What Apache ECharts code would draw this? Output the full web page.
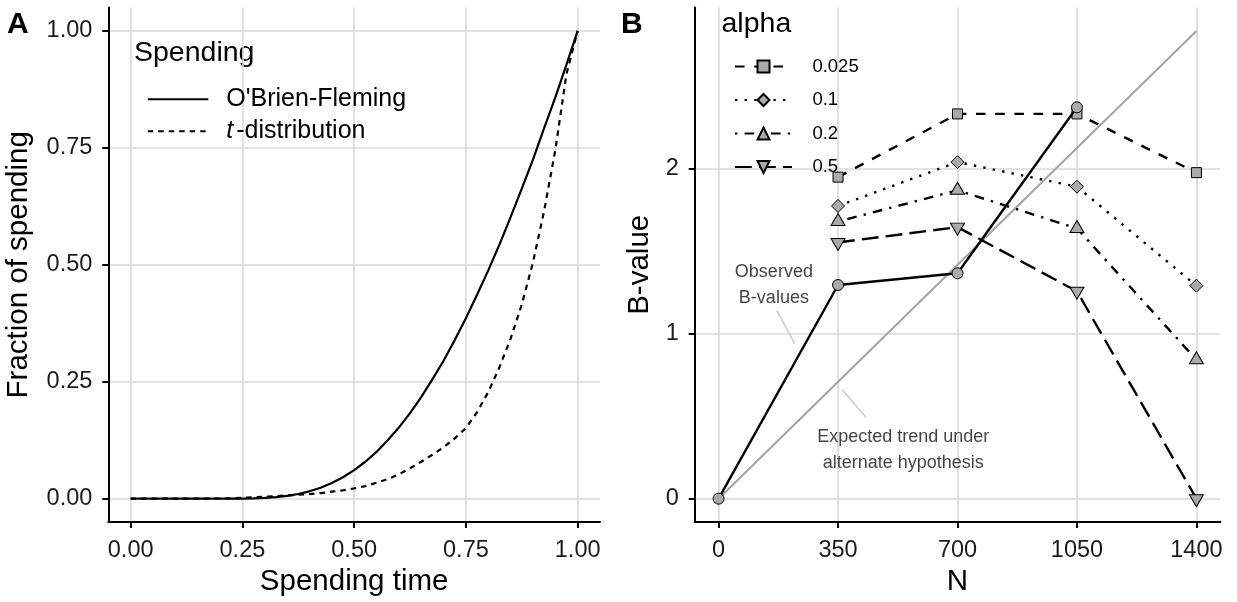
<!DOCTYPE html>
<html>
<head>
<meta charset="utf-8">
<script src="https://cdn.jsdelivr.net/npm/echarts@6/dist/echarts.min.js"></script>
<style>
html,body{margin:0;padding:0;background:#fff;}
#chart{width:1237px;height:602px;}
</style>
</head>
<body>
<div id="chart"></div>
<script>
// ---------- Panel A data ----------
const spendTime = [0,0.025,0.05,0.075,0.1,0.125,0.15,0.175,0.2,0.225,0.25,0.275,0.3,0.325,0.35,0.375,0.4,0.425,0.45,0.475,0.5,0.525,0.55,0.575,0.6,0.625,0.65,0.675,0.7,0.725,0.75,0.775,0.8,0.825,0.85,0.875,0.9,0.925,0.95,0.975,1];
const obfFraction = [0,0,0,0,0,0,0,0,0,0.0001,0.0003,0.0008,0.0017,0.0034,0.006,0.0101,0.0158,0.0234,0.0334,0.0458,0.061,0.079,0.1,0.125,0.152,0.183,0.217,0.255,0.295,0.339,0.386,0.436,0.488,0.543,0.602,0.663,0.725,0.792,0.858,0.928,1];
const tdistFraction = [0,0,0,0,0,0,0.0001,0.0003,0.0006,0.001,0.002,0.003,0.004,0.0055,0.007,0.0085,0.01,0.012,0.015,0.018,0.022,0.027,0.034,0.042,0.052,0.065,0.079,0.094,0.11,0.129,0.151,0.185,0.228,0.281,0.342,0.415,0.505,0.615,0.745,0.908,1];
const spendingNames = ["O'Brien-Fleming", "t-distribution"];
const ticksA = [0, 0.25, 0.5, 0.75, 1];

// ---------- Panel B data ----------
const nObserved = [0, 350, 700, 1050];
const bObserved = [0, 1.295, 1.366, 2.372];
const nAlpha = [350, 700, 1050, 1400];
const alphaNames = ['0.025', '0.1', '0.2', '0.5'];
const bAlpha025 = [1.949, 2.332, 2.332, 1.976];
const bAlpha01 = [1.774, 2.040, 1.891, 1.291];
const bAlpha02 = [1.680, 1.869, 1.638, 0.842];
const bAlpha05 = [1.553, 1.646, 1.257, 0];
const nExpected = [0, 1400];
const bExpected = [0, 2.835];
const ticksBx = [0, 350, 700, 1050, 1400];
const ticksBy = [0, 1, 2];
const noteObserved = 'Observed\nB-values';
const noteExpected = 'Expected trend under\nalternate hypothesis';

// annotation anchors (data coordinates)
const noteObservedAt = [162, 1.296];
const noteObservedSeg = [[171, 1.14], [223, 0.939]];
const noteExpectedAt = [541, 0.295];
const noteExpectedSeg = [[362, 0.661], [431.5, 0.494]];

const FONT = "'Liberation Sans', Arial, Helvetica, sans-serif";
const pair = (xs, ys) => xs.map((x, i) => [x, ys[i]]);

const chart = echarts.init(document.getElementById('chart'), null, {renderer: 'canvas'});

function axisCommon(ticks, fmt) {
  return {
    axisLine: {show: true, onZero: false, lineStyle: {color: '#000', width: 2}},
    axisTick: {show: true, length: 6, customValues: ticks, lineStyle: {color: '#000', width: 2}},
    axisLabel: {customValues: ticks, formatter: fmt, color: '#1a1a1a', fontSize: 23.5, fontFamily: FONT, margin: 16},
    splitLine: {show: true, lineStyle: {color: '#d9d9d9', width: 1.6}},
    minorTick: {show: false},
    nameTextStyle: {color: '#000', fontSize: 29.5, fontFamily: FONT},
    nameLocation: 'middle'
  };
}

const markerFill = '#aaaaaa';
const upTri = 'path://M7,0L14,12L0,12Z';
const downTri = 'path://M0,0L14,0L7,12Z';

function alphaSeries(name, data, symbol, size, dash, offset) {
  return {
    name: name, type: 'line', xAxisIndex: 1, yAxisIndex: 1,
    data: pair(nAlpha, data),
    symbol: symbol, symbolSize: size, symbolOffset: offset || [0, 0], showSymbol: true,
    lineStyle: {color: '#000', width: 2.4, type: dash},
    itemStyle: {color: markerFill, borderColor: '#000', borderWidth: 1},
    emphasis: {disabled: true}, z: 3
  };
}

const option = {
  animation: false,
  backgroundColor: '#fff',
  textStyle: {fontFamily: FONT},
  grid: [
    {left: 108.3, top: 7.5, width: 491.7, height: 516.5},
    {left: 694.7, top: 7.5, width: 525.6, height: 516.5}
  ],
  xAxis: [
    Object.assign(axisCommon(ticksA, v => v.toFixed(2)), {
      type: 'value', gridIndex: 0, min: -0.05, max: 1.05, name: 'Spending time', nameGap: 41
    }),
    Object.assign(axisCommon(ticksBx, v => String(v)), {
      type: 'value', gridIndex: 1, min: -70, max: 1470, name: 'N', nameGap: 41
    })
  ],
  yAxis: [
    Object.assign(axisCommon(ticksA, v => v.toFixed(2)), {
      type: 'value', gridIndex: 0, min: -0.05, max: 1.05, name: 'Fraction of spending', nameGap: 74
    }),
    Object.assign(axisCommon(ticksBy, v => String(v)), {
      type: 'value', gridIndex: 1, min: -0.142, max: 2.977, name: 'B-value', nameGap: 40
    })
  ],
  legend: [
    {
      data: spendingNames, orient: 'vertical', left: 141.7, top: 81.8,
      itemWidth: 60.6, itemHeight: 14, itemGap: 7, selectedMode: false,
      itemStyle: {opacity: 0},
      formatter: name => name === 't-distribution' ? '{i|t}{n|-distribution}' : '{n|' + name + '}',
      textStyle: {
        color: '#000', fontSize: 25, lineHeight: 24, fontFamily: FONT, padding: [0, 0, 0, 13],
        rich: {
          i: {fontStyle: 'italic', fontSize: 25, fontFamily: FONT, color: '#000', padding: [0, 3, 0, 0]},
          n: {fontSize: 25, fontFamily: FONT, color: '#000'}
        }
      }
    },
    {
      data: alphaNames, orient: 'vertical', left: 729, top: 52,
      itemWidth: 57, itemHeight: 15, itemGap: 14.5, selectedMode: false,
      textStyle: {color: '#000', fontSize: 18.5, lineHeight: 18, fontFamily: FONT, padding: [0, 0, 0, 15.4]}
    }
  ],
  graphic: [
    {type: 'text', left: 7, top: 10, style: {text: 'A', font: 'bold 30px ' + FONT, fill: '#000'}},
    {type: 'text', left: 621, top: 10, style: {text: 'B', font: 'bold 30px ' + FONT, fill: '#000'}},
    {type: 'text', left: 134, top: 39, style: {text: 'Spending', font: '28.5px ' + FONT, fill: '#000'}},
    {type: 'text', left: 721.5, top: 10, style: {text: 'alpha', font: '28.5px ' + FONT, fill: '#000'}}
  ],
  series: [
    {
      name: spendingNames[0], type: 'line', xAxisIndex: 0, yAxisIndex: 0,
      data: pair(spendTime, obfFraction), symbol: 'none',
      lineStyle: {color: '#000', width: 2.2, type: 'solid'}, itemStyle: {color: '#000'}, z: 3
    },
    {
      name: spendingNames[1], type: 'line', xAxisIndex: 0, yAxisIndex: 0,
      data: pair(spendTime, tdistFraction), symbol: 'none',
      lineStyle: {color: '#000', width: 2.2, type: [5.5, 5]}, itemStyle: {color: '#000'}, z: 3
    },
    {
      name: 'seg1', type: 'line', xAxisIndex: 1, yAxisIndex: 1, data: noteObservedSeg,
      symbol: 'none', lineStyle: {color: '#cccccc', width: 1.6}, silent: true, z: 1
    },
    {
      name: 'seg2', type: 'line', xAxisIndex: 1, yAxisIndex: 1, data: noteExpectedSeg,
      symbol: 'none', lineStyle: {color: '#cccccc', width: 1.6}, silent: true, z: 1
    },
    {
      name: 'expected', type: 'line', xAxisIndex: 1, yAxisIndex: 1, data: pair(nExpected, bExpected),
      symbol: 'none', lineStyle: {color: '#a3a3a3', width: 2}, silent: true, z: 2
    },
    alphaSeries(alphaNames[0], bAlpha025, 'rect', 10, [9.6, 9.6]),
    alphaSeries(alphaNames[1], bAlpha01, 'diamond', 13, [2.4, 7.2]),
    alphaSeries(alphaNames[2], bAlpha02, upTri, [14, 12], [2.4, 7.2, 9.6, 7.2], [0, -2]),
    alphaSeries(alphaNames[3], bAlpha05, downTri, [14, 12], [16.8, 7.2], [0, 2]),
    {
      name: 'observed', type: 'line', xAxisIndex: 1, yAxisIndex: 1, data: pair(nObserved, bObserved),
      symbol: 'circle', symbolSize: 11,
      lineStyle: {color: '#000', width: 2.4},
      itemStyle: {color: markerFill, borderColor: '#000', borderWidth: 1}, z: 4
    },
    {
      name: 'notes', type: 'scatter', xAxisIndex: 1, yAxisIndex: 1, symbolSize: 0, silent: true,
      data: [
        {value: noteObservedAt, label: {formatter: noteObserved}},
        {value: noteExpectedAt, label: {formatter: noteExpected}}
      ],
      label: {show: true, position: 'inside', color: '#111', fontSize: 18, lineHeight: 25.5, fontFamily: FONT, align: 'center'},
      z: 5
    }
  ]
};
chart.setOption(option);
</script>
</body>
</html>
